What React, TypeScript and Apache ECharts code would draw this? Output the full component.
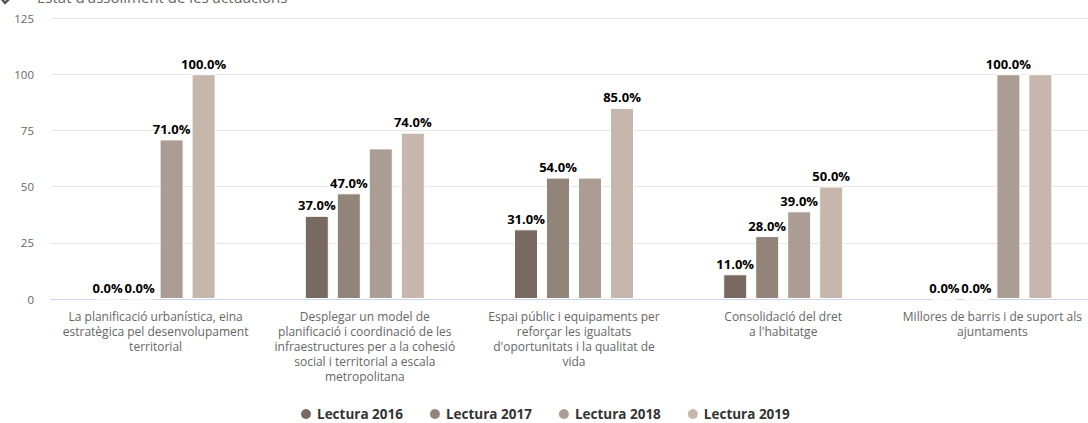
import React, { useEffect, useRef } from "react";
import * as echarts from "echarts";

const categories = [
  "La planificació urbanística, eina\nestratègica pel desenvolupament\nterritorial",
  "Desplegar un model de\nplanificació i coordinació de les\ninfraestructures per a la cohesió\nsocial i territorial a escala\nmetropolitana",
  "Espai públic i equipaments per\nreforçar les igualtats\nd'oportunitats i la qualitat de\nvida",
  "Consolidació del dret\na l'habitatge",
  "Millores de barris i de suport als\najuntaments",
];
const seriesNames = ["Lectura 2016", "Lectura 2017", "Lectura 2018", "Lectura 2019"];
const values2016 = [0, 37, 31, 11, 0];
const values2017 = [0, 47, 54, 28, 0];
const values2018 = [71, 67, 54, 39, 100];
const values2019 = [100, 74, 85, 50, 100];
// labels hidden in the reference (overlapping labels)
const hidden2016 = [false, false, false, false, false];
const hidden2017 = [false, false, false, false, false];
const hidden2018 = [false, true, true, false, false];
const hidden2019 = [false, false, false, false, true];
const yTicks = { min: 0, max: 125, interval: 25 };
const title = "Estat d'assoliment de les actuacions";

const colors = ["#786a60", "#928479", "#ab9d93", "#c6b6ab"];
const FONT = "'Open Sans', sans-serif";

export default function App() {
  const ref = useRef<HTMLDivElement>(null);
  useEffect(() => {
    document.body.style.margin = "0";
    const chart = echarts.init(ref.current!, null, { renderer: "svg" });
    const allValues = [values2016, values2017, values2018, values2019];
    const allHidden = [hidden2016, hidden2017, hidden2018, hidden2019];
    chart.setOption({
      animation: false,
      textStyle: { fontFamily: FONT },
      grid: { left: 51, top: 18, width: 1046, height: 281, containLabel: false },
      legend: {
        left: 294,
        top: 407,
        padding: [0, 5, 0, 5],
        itemWidth: 12,
        itemHeight: 12,
        itemGap: 25,
        icon: "circle",
        textStyle: {
          fontFamily: FONT,
          fontSize: 13.5,
          lineHeight: 14,
          fontWeight: "bold",
          color: "#333",
        },
        data: seriesNames,
      },
      graphic: [
        {
          type: "polyline",
          shape: { points: [[1, -2], [5, 3], [9, -1], [14, -6]] },
          style: { stroke: "#555", lineWidth: 2.5, fill: "none" },
        },
        {
          type: "text",
          left: 37,
          top: -11,
          style: { text: title, fontFamily: FONT, fontSize: 15, fill: "#666" },
        },
      ],
      xAxis: {
        type: "category",
        data: categories,
        axisLine: { lineStyle: { color: "#ccd6eb" } },
        axisTick: { show: false },
        axisLabel: {
          interval: 0,
          margin: 10,
          color: "#666",
          fontFamily: FONT,
          fontSize: 12,
          lineHeight: 15,
        },
      },
      yAxis: {
        type: "value",
        min: yTicks.min,
        max: yTicks.max,
        interval: yTicks.interval,
        axisLabel: { color: "#666", fontFamily: FONT, fontSize: 11.5, margin: 17 },
        splitLine: { lineStyle: { color: "#e6e6e6" } },
      },
      series: seriesNames.map((name, si) => ({
        name,
        type: "bar",
        barWidth: 24,
        barGap: "33.3%",
        itemStyle: { color: colors[si], borderColor: "#fff", borderWidth: 1 },
        label: {
          show: true,
          position: "top",
          distance: 4,
          fontFamily: FONT,
          fontSize: 13,
          fontWeight: "bold",
          color: "#000",
          textBorderColor: "#fff",
          textBorderWidth: 2,
          formatter: (p: any) => Number(p.value).toFixed(1) + "%",
        },
        data: allValues[si].map((v, i) =>
          allHidden[si][i] ? { value: v, label: { show: false } } : { value: v }
        ),
      })),
    });
    return () => chart.dispose();
  }, []);
  return (
    <div style={{ width: 1088, height: 423, overflow: "hidden" }}>
      <div ref={ref} style={{ width: 1110, height: 423 }} />
    </div>
  );
}
